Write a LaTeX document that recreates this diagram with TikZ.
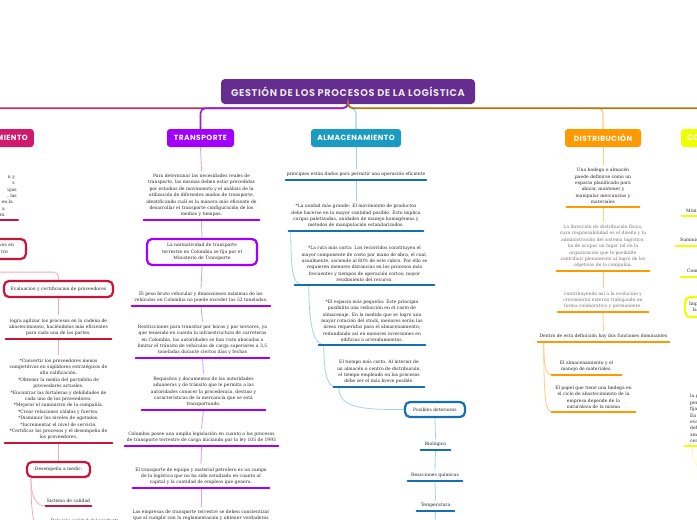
\documentclass[tikz,border=0pt]{standalone}
\usepackage{fontspec}
\setmainfont{DejaVu Serif}
\newfontfamily\headfont{Poppins}[LetterSpace=6]
\usepackage{tikz}
\definecolor{rootpurple}{HTML}{662D91}
\definecolor{aprored}{HTML}{D11A6E}
\definecolor{aproline}{HTML}{C8163A}
\definecolor{aprolink}{HTML}{F2A9BC}
\definecolor{aprotop}{HTML}{B83266}
\definecolor{transviolet}{HTML}{A100FF}
\definecolor{transtop}{HTML}{9A1FD4}
\definecolor{translink}{HTML}{D39BFF}
\definecolor{almablue}{HTML}{1B9BC2}
\definecolor{almaline}{HTML}{1470AF}
\definecolor{almalink}{HTML}{A3D2EA}
\definecolor{distorange}{HTML}{FF9900}
\definecolor{distlink}{HTML}{FFCB85}
\definecolor{compyellow}{HTML}{EEFF00}
\definecolor{complink}{HTML}{F6FF99}
\definecolor{topgold}{HTML}{A67C0A}

\begin{document}
\begin{tikzpicture}[x=1pt, y=-1pt,
  main/.style={rectangle, rounded corners=4pt, fill=rootpurple, text=black!10,
               font=\headfont\bfseries\fontsize{9.8}{11}\selectfont,
               minimum width=254, minimum height=25},
  branch/.style={rectangle, rounded corners=3pt, text=white, inner xsep=6pt,
                 font=\headfont\bfseries\fontsize{7.5}{9}\selectfont, minimum height=18},
  topic/.style={align=center, text=black!85, font=\fontsize{4.5}{6.4}\selectfont,
                inner xsep=0pt, inner ysep=3pt, anchor=south},
  hub/.style={rectangle, rounded corners=5pt, line width=2.2pt, fill=white,
              align=center, text=black!85, font=\fontsize{4.5}{6.4}\selectfont},
  ul/.style={line width=2.6pt, line cap=round},
  link/.style={line width=0.8pt},
  top/.style={line width=1.6pt, rounded corners=5pt},
]
\useasboundingbox (0,0) rectangle (697,520);
\clip (0,0) rectangle (697,520);
\fill[white] (0,0) rectangle (697,520);

\node[main] (root) at (348,91.5) {GESTIÓN DE LOS PROCESOS DE LA LOGÍSTICA};

% --- Aprovisionamiento ---
\node[branch, fill=aprored, anchor=east] (apro) at (34,138) {APROVISIONAMIENTO};
\node[topic, anchor=south east, align=right, text width=60pt, inner xsep=1pt] (a1) at (18,220)
  {n y\kern2pt\\ s\kern2pt\\ ujos\\ , las\\ n en la\kern4pt\\ a\kern12pt\\ ro.\kern11pt};
\node[hub, draw=aproline, anchor=east, align=right, text width=60pt, inner xsep=12pt,
      minimum height=20] (a2) at (27,249) {vos en\\ tro\kern6pt};
\node[hub, draw=aproline, minimum width=109, minimum height=16] (a3) at (58.5,289)
  {Evaluacion y certificacion de proveedores};
\node[topic, minimum width=105] (a4) at (58.5,339) {logra agilizar los procesos en la cadena de\\
  abastecimiento, haciéndolos más eficientes\\ para cada una de las partes.};
\node[topic, minimum width=107] (a5) at (58.5,443) {*Convertir los proveedores menos\\
  competitivos en suplidores estratégicos de\\ alta calificación.\\
  *Obtener la media del portafolio de\\ proveedores actuales.\\
  *Encontrar las fortalezas y debilidades de\\ cada uno de los proveedores.\\
  *Mejorar el suministro de la compañía.\\ *Crear relaciones cálidas y fuertes.\\
  *Disminuir los niveles de agotados.\\ *Incrementar el nivel de servicio.\\
  *Certificar los procesos y el desempeño de\\ los proveedores.};
\node[hub, draw=aproline, minimum width=63, minimum height=15] (a6) at (58.5,469.5) {Desempeño a medir:};
\node[topic, minimum width=45] (a7) at (68.5,506) {Sistema de calidad};
\node[topic, minimum width=80] (a8) at (85,533) {Relación calidad del producto\\ y servicio};

% --- Transporte ---
\node[branch, fill=transviolet, minimum width=67] (trans) at (200.5,138) {TRANSPORTE};
\node[topic, minimum width=115] (b1) at (201.5,220) {Para determinar las necesidades reales de\\
  transporte, las mismas deben estar precedidas\\ por estudios de movimiento y el análisis de la\\
  utilización de diferentes modos de transporte,\\ identificando cuál es la manera más eficiente de\\
  desarrollar el transporte configuración de los\\ medios y tiempos.};
\node[hub, draw=transviolet, minimum width=110, minimum height=26] (b2) at (202,252)
  {La normatividad de transporte\\ terrestre en Colombia se fija por el\\ Ministerio de Transporte};
\node[topic, minimum width=138] (b3) at (201,306) {El peso bruto vehicular y dimensiones máximas de los\\
  vehículos en Colombia no puede exceder las 52 toneladas.};
\node[topic, minimum width=133] (b4) at (202.5,358) {Restricciones para transitar por horas y por sectores, ya\\
  que teniendo en cuenta la infraestructura de carreteras\\ en Colombia, las autoridades se han visto abocadas a\\
  limitar el tránsito de vehículos de carga superiores a 3,5\\ toneladas durante ciertos días y fechas};
\node[topic, minimum width=123] (b5) at (203.5,410) {Requisitos y documentos de las autoridades\\
  aduaneras y de tránsito que le permita a las\\ autoridades conocer la procedencia, destino y\\
  características de la mercancía que se está\\ transportando.};
\node[topic, minimum width=153] (b6) at (201.5,446) {Colombia posee una amplia legislación en cuanto a los procesos\\
  de transporte terrestre de carga iniciando por la ley 105 de 1993};
\node[topic, minimum width=136] (b7) at (201,488) {El transporte de equipo y material petrolero es un campo\\
  de la logística que no ha sido estudiado en cuanto al\\ capital y la cantidad de empleos que genera.};
\node[topic, minimum width=140] (b8) at (201,524) {Las empresas de transporte terrestre se deben concientizar\\
  que al cumplir con la reglamentación y obtener verdaderos};

% --- Almacenamiento ---
\node[branch, fill=almablue, minimum width=90] (alma) at (356,138) {ALMACENAMIENTO};
\node[topic, minimum width=140] (c1) at (356,180) {principios están dados para permitir una operación eficiente};
\node[topic, minimum width=134] (c2) at (356,231) {*La unidad más grande: El movimiento de productos\\
  debe hacerse en la mayor cantidad posible. Esto implica\\ cargas paletizadas, unidades de manejo homogéneas y\\
  métodos de manipulación estandarizados.};
\node[topic, minimum width=139] (c3) at (364.5,285) {*La ruta más corta: Los recorridos constituyen el\\
  mayor componente de costo por mano de obra, el cual,\\ usualmente, asciende al 80\% de este rubro. Por ello se\\
  requieren menores distancias en los procesos más\\ frecuentes y tiempos de operación cortos; mayor\\
  rendimiento del recurso.};
\node[topic, minimum width=106] (c4) at (372,345) {*El espacio más pequeño: Este principio\\
  posibilita una reducción en el costo de\\ almacenaje. En la medida que se logre una\\
  mayor rotación del stock, menores serán las\\ áreas requeridas para el almacenamiento;\\
  redundando así en menores inversiones en\\ edificios o arrendamientos.};
\node[topic, minimum width=90] (c5) at (379,387) {El tiempo más corto. Al interior de\\
  un almacén o centro de distribución,\\ el tiempo empleado en los procesos\\ debe ser el más breve posible.};
\node[hub, draw=almaline, minimum width=60, minimum height=15] (c6) at (435,409.5) {Posibles deterioros};
\node[topic, minimum width=29] (c7) at (435.5,450) {Biológico};
\node[topic, minimum width=54] (c8) at (435,481) {Reacciones químicas};
\node[topic, minimum width=37] (c9) at (435.5,511) {Temperatura};
\coordinate (c10) at (435,530);

% --- Distribucion ---
\node[branch, fill=distorange, minimum width=76] (dist) at (603,138) {DISTRIBUCIÓN};
\node[topic, minimum width=72] (d1) at (603,207) {Una bodega o almacén\\ puede definirse como un\\
  espacio planificado para\\ ubicar, mantener y\\ manipular mercancías y\\ materiales};
\node[topic, minimum width=92, text=black!55] (d2) at (603,271) {La dirección de distribución física,\\
  cuya responsabilidad es el diseño y la\\ administración del sistema logístico,\\
  ha de ocupar un lugar tal en la\\ organización que le posibilite\\
  contribuir plenamente al logro de los\\ objetivos de la compañía.};
\node[topic, minimum width=90, text=black!55] (d3) at (603,312) {contribuyendo así a la evolución y\\
  crecimiento externo trabajando en\\ forma colaborativa y permanente.};
\node[topic, minimum width=131] (d4) at (603.5,342) {Dentro de esta definición hay dos funciones dominantes};
\node[topic, minimum width=69] (d5) at (586.5,375) {El almacenamiento y el\\ manejo de materiales.};
\node[topic, minimum width=83] (d6) at (593.5,412) {El papel que tiene una bodega en\\
  el ciclo de abastecimiento de la\\ empresa depende de la\\ naturaleza de la misma};

% --- Compras ---
\node[branch, fill=compyellow, anchor=west] (comp) at (681,138) {COMPRAS};
\node[topic, anchor=south west, inner xsep=4pt] (e1) at (682,216) {Minimizar costos};
\node[topic, anchor=south west, inner xsep=4pt] (e2) at (676,246) {Suministro oportuno};
\node[topic, anchor=south west, inner xsep=6pt] (e3) at (681,277) {Compras};
\node[hub, draw=compyellow, anchor=west, inner xsep=4pt, minimum height=20] (e4) at (684,307)
  {Importancia de\\ las compras};
\node[topic, anchor=south west, align=left, inner xsep=5pt] (e5) at (685,446) {la gestión de compras\\
  permite a la empresa\\ fijar sus necesidades.\\ En este proceso se\\ evalúan proveedores y\\
  definen cantidades\\ ambientales y\\ certificados.};
\coordinate (e6) at (712,474);

% --- connectors ---
\draw[top, aprotop] (root.south) -- ++(0,4) -| (apro.north);
\draw[top, transtop] (root.south) -- ++(0,4) -| (trans.north);
\draw[top, almalink, line width=1.2pt] (root.south) -- ++(0,4) -| (alma.north);
\draw[top, distlink, line width=1.2pt] (root.south) -- ++(0,4) -| (dist.north);
\draw[top, topgold] (root.south) -- ++(0,4) -| (comp.north);

\draw[link, aprolink, rounded corners=5pt] (a2.south) -- ++(0,12) -| (a3.north);
\foreach \u/\v in {a3/a4, a4/a5, a5/a6}
  \draw[link, aprolink] (\u.south) -- (\v.north);
\draw[link, aprolink] ([xshift=5pt]a6.south west) .. controls +(0,22) and +(-8,0) .. (a7.south west);
\draw[link, aprolink] ([xshift=5pt]a6.south west) .. controls +(0,50) and +(-8,0) .. (a8.south west);

\foreach \u/\v in {trans/b1, b1/b2, b2/b3, b3/b4, b4/b5, b5/b6, b6/b7, b7/b8}
  \draw[link, translink] (\u.south) -- (\v.north);

\foreach \u/\v in {alma/c1, c1/c2, c6/c7, c7/c8, c8/c9}
  \draw[link, almalink] (\u.south) -- (\v.north);
\draw[link, almalink] (c9.south) -- (c10);
\draw[link, almalink] ([xshift=2pt]c2.south west) .. controls +(0,40) and +(-10,0) .. ([xshift=8pt]c3.south west);
\draw[link, almalink] ([xshift=14pt]c3.south west) .. controls +(0,45) and +(-10,0) .. ([xshift=6pt]c4.south west);
\draw[link, almalink] ([xshift=5pt]c4.south west) .. controls +(0,30) and +(-8,0) .. ([xshift=2pt]c5.south west);
\draw[link, almalink] ([xshift=5pt]c5.south west) .. controls +(0,22) and +(-40,0) .. (c6.west);

\foreach \u/\v in {dist/d1, d1/d2, d2/d3, d3/d4}
  \draw[link, distlink] (\u.south) -- (\v.north);
\draw[link, distlink] ([xshift=6pt]d4.south west) .. controls +(0,25) and +(-6,0) .. (d5.south west);
\draw[link, distlink] ([xshift=6pt]d4.south west) .. controls +(0,60) and +(-6,0) .. (d6.south west);

\draw[link, complink] ([xshift=7pt]e5.south west) .. controls +(0,22) and +(-8,0) .. (e6);

% --- underlines ---
\foreach \n in {a1, a4, a5, a7, a8}
  \draw[ul, aproline] (\n.south west) -- (\n.south east);
\foreach \n in {b1, b3, b4, b5, b6, b7, b8}
  \draw[ul, transviolet] (\n.south west) -- (\n.south east);
\foreach \n in {c1, c2, c3, c4, c5, c7, c8, c9}
  \draw[ul, almaline] (\n.south west) -- (\n.south east);
\foreach \n in {d1, d2, d3, d4, d5, d6}
  \draw[ul, distorange] (\n.south west) -- (\n.south east);
\foreach \n in {e1, e2, e3, e5}
  \draw[ul, compyellow] (\n.south west) -- (\n.south east);
\end{tikzpicture}
\end{document}
